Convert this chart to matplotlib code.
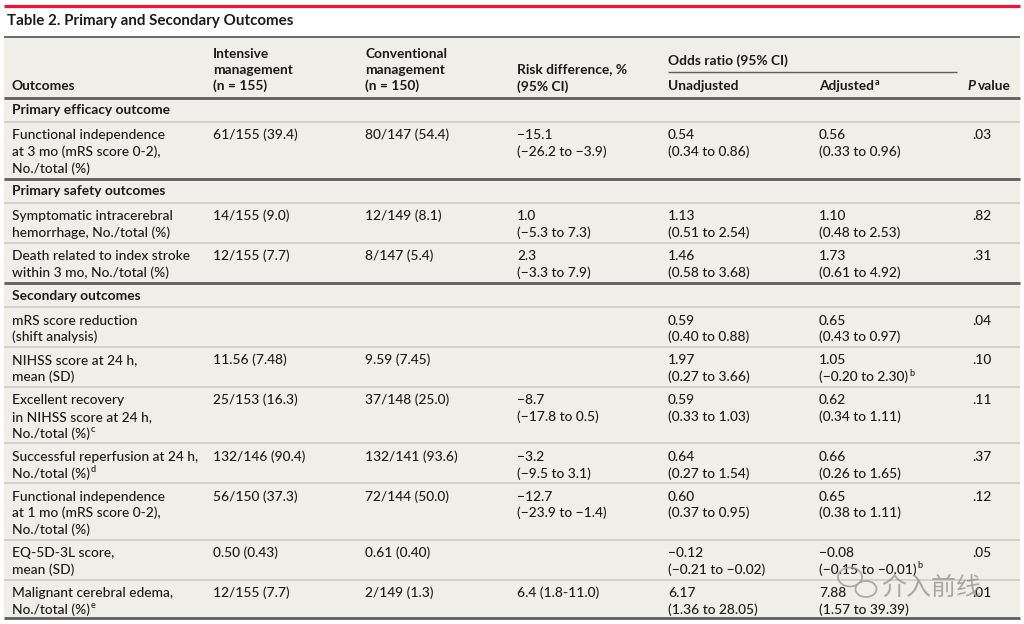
import matplotlib.pyplot as plt
from matplotlib.patches import Rectangle, Ellipse

# table content
title = "Table 2. Primary and Secondary Outcomes"
sections = ["Primary efficacy outcome", "Primary safety outcomes", "Secondary outcomes"]
row_section = [0, 1, 1, 2, 2, 2, 2, 2, 2, 2]
outcome_labels = [
    "Functional independence\nat 3 mo (mRS score 0-2),\nNo./total (%)",
    "Symptomatic intracerebral\nhemorrhage, No./total (%)",
    "Death related to index stroke\nwithin 3 mo, No./total (%)",
    "mRS score reduction\n(shift analysis)",
    "NIHSS score at 24 h,\nmean (SD)",
    "Excellent recovery\nin NIHSS score at 24 h,\nNo./total (%)",
    "Successful reperfusion at 24 h,\nNo./total (%)",
    "Functional independence\nat 1 mo (mRS score 0-2),\nNo./total (%)",
    "EQ-5D-3L score,\nmean (SD)",
    "Malignant cerebral edema,\nNo./total (%)",
]
label_notes = ["", "", "", "", "", "c", "d", "", "", "e"]
intensive = ["61/155 (39.4)", "14/155 (9.0)", "12/155 (7.7)", "", "11.56 (7.48)",
             "25/153 (16.3)", "132/146 (90.4)", "56/150 (37.3)", "0.50 (0.43)", "12/155 (7.7)"]
conventional = ["80/147 (54.4)", "12/149 (8.1)", "8/147 (5.4)", "", "9.59 (7.45)",
                "37/148 (25.0)", "132/141 (93.6)", "72/144 (50.0)", "0.61 (0.40)", "2/149 (1.3)"]
risk_diff = ["−15.1\n(−26.2 to −3.9)", "1.0\n(−5.3 to 7.3)", "2.3\n(−3.3 to 7.9)", "", "",
             "−8.7\n(−17.8 to 0.5)", "−3.2\n(−9.5 to 3.1)", "−12.7\n(−23.9 to −1.4)", "",
             "6.4 (1.8-11.0)"]
or_unadjusted = ["0.54\n(0.34 to 0.86)", "1.13\n(0.51 to 2.54)", "1.46\n(0.58 to 3.68)",
                 "0.59\n(0.40 to 0.88)", "1.97\n(0.27 to 3.66)", "0.59\n(0.33 to 1.03)",
                 "0.64\n(0.27 to 1.54)", "0.60\n(0.37 to 0.95)", "−0.12\n(−0.21 to −0.02)",
                 "6.17\n(1.36 to 28.05)"]
or_adjusted = ["0.56\n(0.33 to 0.96)", "1.10\n(0.48 to 2.53)", "1.73\n(0.61 to 4.92)",
               "0.65\n(0.43 to 0.97)", "1.05\n(−0.20 to 2.30)", "0.62\n(0.34 to 1.11)",
               "0.66\n(0.26 to 1.65)", "0.65\n(0.38 to 1.11)", "−0.08\n(−0.15 to −0.01)",
               "7.88\n(1.57 to 39.39)"]
adjusted_notes = ["", "", "", "", "b", "", "", "", "b", ""]
p_values = [".03", ".82", ".31", ".04", ".10", ".11", ".37", ".12", ".05", ".01"]

# style
FONT = "Lato"
FS = 9.9
TXT = "#1e1a1b"
BG = "#efeee8"
RED = "#d6203c"
DARK = "#5e5e5e"
LIGHT = "#d2d0ca"
col_x = [12, 213, 365, 517, 668, 819, 972]
LEFT, RIGHT = 4, 1020
STEP = 16.8

fig = plt.figure(figsize=(10.24, 6.24), dpi=100)
ax = fig.add_axes([0, 0, 1, 1])
ax.set_xlim(0, 1024)
ax.set_ylim(624, 0)
ax.axis("off")
renderer = fig.canvas.get_renderer()


def put(x, y, s, sup="", weight="medium", style="normal", size=FS, ha="left"):
    # y is the vertical centre of the text line (pixels from top)
    t = ax.text(x, y + 4.5, s, fontsize=size, fontweight=weight, fontstyle=style,
                family=FONT, color=TXT, ha=ha, va="baseline")
    if sup:
        bb = t.get_window_extent(renderer)
        x1 = ax.transData.inverted().transform((bb.x1, bb.y0))[0]
        ax.text(x1 + 0.8, y - 1.0, sup, fontsize=size * 0.66, fontweight=weight,
                family=FONT, color=TXT, ha="left", va="baseline")
    return t


def hline(y, color, lw, x0=LEFT, x1=RIGHT):
    ax.plot([x0, x1], [y, y], color=color, lw=lw, solid_capstyle="butt")


# title and red rule
ax.plot([LEFT, RIGHT], [5.5, 5.5], color=RED, lw=2.4, solid_capstyle="butt")
ax.text(7, 25.5, title, fontsize=10.9, fontweight="bold", family=FONT, color=TXT,
        va="baseline")

# table background
TOP, BOTTOM = 37, 618
ax.add_patch(Rectangle((LEFT, TOP), RIGHT - LEFT, BOTTOM - TOP, facecolor=BG,
                       edgecolor="none", zorder=0))
hline(TOP, DARK, 1.3)

# header
put(col_x[0], 86, "Outcomes", weight="bold")
for i, line in enumerate(["Intensive", "management", "(n = 155)"]):
    put(col_x[1], 53 + i * 16.3, line, weight="bold")
for i, line in enumerate(["Conventional", "management", "(n = 150)"]):
    put(col_x[2], 53 + i * 16.3, line, weight="bold")
put(col_x[3], 69, "Risk difference, %", weight="bold")
put(col_x[3], 86, "(95% CI)", weight="bold")
put(col_x[4], 60, "Odds ratio (95% CI)", weight="bold")
hline(71.5, DARK, 1.0, col_x[4], 957)
put(col_x[4], 86, "Unadjusted", weight="bold")
put(col_x[5], 86, "Adjusted", sup="a", weight="bold")
p = put(967, 86, "P", weight="bold", style="italic")
bb = p.get_window_extent(renderer)
px1 = ax.transData.inverted().transform((bb.x1, bb.y0))[0]
put(px1 + 3, 86, "value", weight="bold")

y = 97.5
hline(y, DARK, 2.0)

# body
current = None
for r in range(len(outcome_labels)):
    sec = row_section[r]
    if sec != current:
        if current is not None:
            hline(y, DARK, 2.0)
        put(col_x[0], y + 12.3, sections[sec], weight="bold")
        y += 24.5
        hline(y, LIGHT, 1.4)
        current = sec
    elif r > 0:
        hline(y, LIGHT, 1.4)

    cells = [outcome_labels[r], intensive[r], conventional[r], risk_diff[r],
             or_unadjusted[r], or_adjusted[r], p_values[r]]
    notes = [label_notes[r], "", "", "", "", adjusted_notes[r], ""]
    nlines = max(len(c.split("\n")) for c in cells)
    for c, (cell, note) in enumerate(zip(cells, notes)):
        if not cell:
            continue
        lines = cell.split("\n")
        for k, line in enumerate(lines):
            put(col_x[c], y + 12.8 + k * STEP, line,
                sup=note if k == len(lines) - 1 else "")
    y += 12.8 + (nlines - 1) * STEP + 10.2

hline(BOTTOM, DARK, 2.0)

# watermark
ax.add_patch(Ellipse((850, 577), 24, 19, fill=False, edgecolor="#9a9a9a", lw=1.3,
                     alpha=0.8, zorder=5))
ax.add_patch(Ellipse((866, 589), 21, 16, facecolor=BG, edgecolor="#9a9a9a", lw=1.3,
                     alpha=0.8, zorder=6))
ax.text(881, 588, "介入前线", fontsize=18, family=["Noto Sans CJK SC", "DejaVu Sans"],
        color="#8a8a8a", alpha=0.7, va="center", ha="left", zorder=7)

fig.savefig("out.png", dpi=100, facecolor="white")
